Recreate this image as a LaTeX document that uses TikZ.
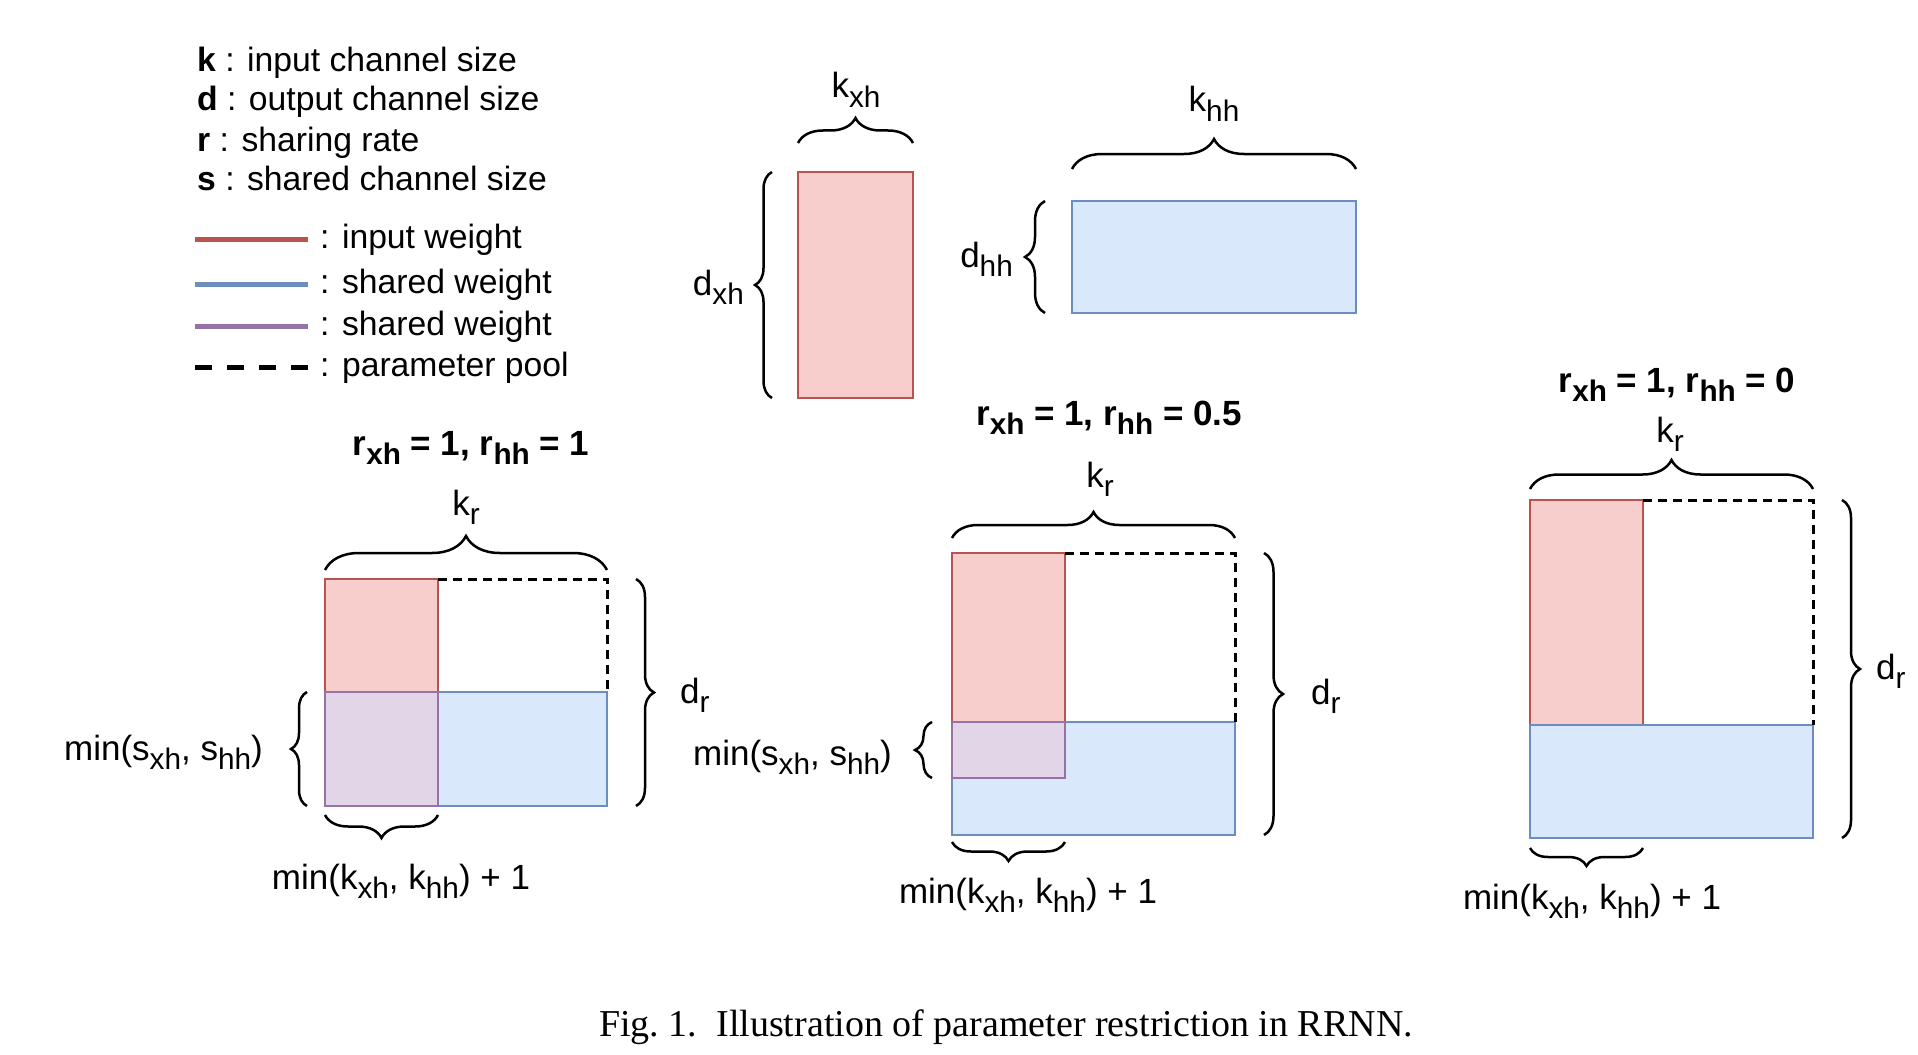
\documentclass[tikz,border=0pt]{standalone}
\usepackage{fontspec}
\usepackage{graphicx}
\setmainfont{Liberation Sans}
\newfontfamily\capfont{Liberation Serif}
\usetikzlibrary{decorations.pathreplacing}
\newcommand{\sbx}[1]{\raisebox{-0.26em}{\fontsize{29.75}{30}\selectfont #1}}
\definecolor{rfill}{HTML}{F8CECC}
\definecolor{rline}{HTML}{B85450}
\definecolor{bfill}{HTML}{DAE8FC}
\definecolor{bline}{HTML}{6C8EBF}
\definecolor{pfill}{HTML}{E1D5E7}
\definecolor{pline}{HTML}{9673A6}
\tikzset{
  redbox/.style={fill=rfill, draw=rline, line width=2.5pt},
  bluebox/.style={fill=bfill, draw=bline, line width=2.5pt},
  purpbox/.style={fill=pfill, draw=pline, line width=2.5pt},
  poolline/.style={draw=black, dash pattern=on 9pt off 6pt, line width=3pt},
  bracepath/.style={draw=black, line width=2.5pt, decorate, decoration={brace, amplitude=#1}},
  legline/.style={line width=5pt},
  legdash/.style={line width=5pt, dash pattern=on 17pt off 15pt},
  leg/.style={font=\fontsize{33.7}{40}\selectfont, inner sep=0pt},
  lbl/.style={font=\fontsize{35}{42}\selectfont, inner sep=0pt},
  ttl/.style={font=\fontsize{35}{42}\selectfont\bfseries, inner sep=0pt},
}
\begin{document}
\begin{tikzpicture}[x=1pt,y=-1pt]
\useasboundingbox[fill=white] (0,0) rectangle (1918,1054);

% ---------------- legend ----------------
\node[leg, anchor=base west] (lk) at (197,72) {\textbf{k} : input channel size};
\node[leg, anchor=base west] (ld) at (197,111) {\textbf{d} : output channel size};
\node[leg, anchor=base west] (lr) at (197,151) {\textbf{r} : sharing rate};
\node[leg, anchor=base west] (ls) at (197,190) {\textbf{s} : shared channel size};
\coordinate (la1) at (195,239); \coordinate (la2) at (308,239);
\coordinate (lb1) at (195,284); \coordinate (lb2) at (308,284);
\coordinate (lc1) at (195,326); \coordinate (lc2) at (308,326);
\coordinate (ld1) at (195,367); \coordinate (ld2) at (308,367);
\draw[legline, rline] (la1) -- (la2);
\draw[legline, bline] (lb1) -- (lb2);
\draw[legline, pline] (lc1) -- (lc2);
\draw[legdash, black] (ld1) -- (ld2);
\node[leg, anchor=base west] (lt1) at (320,248) {: input weight};
\node[leg, anchor=base west] (lt2) at (320,293) {: shared weight};
\node[leg, anchor=base west] (lt3) at (320,335) {: shared weight};
\node[leg, anchor=base west] (lt4) at (320,376) {: parameter pool};

% ---------------- top matrices ----------------
\draw[redbox] (798,172) rectangle (913,398);
\draw[bluebox] (1072,201) rectangle (1356,313);
\coordinate (kxa) at (798,143); \coordinate (kxb) at (913,143);
\draw[bracepath=25] (kxa) -- (kxb);
\node[lbl, anchor=base] (kxh) at (856,98) {k\sbx{xh}};
\coordinate (kha) at (1072,169); \coordinate (khb) at (1356,169);
\draw[bracepath=30] (kha) -- (khb);
\node[lbl, anchor=base] (khh) at (1214,112) {k\sbx{hh}};
\coordinate (dxa) at (772,398); \coordinate (dxb) at (772,172);
\draw[bracepath=17] (dxa) -- (dxb);
\node[lbl, anchor=base east] (dxh) at (744,295) {d\sbx{xh}};
\coordinate (dha) at (1045,313); \coordinate (dhb) at (1045,201);
\draw[bracepath=20] (dha) -- (dhb);
\node[lbl, anchor=base east] (dhh) at (1013,267) {d\sbx{hh}};

% ---------------- left: r_xh=1, r_hh=1 ----------------
\node[ttl, anchor=base] (tL) at (471,455) {r\sbx{xh} = 1, r\sbx{hh} = 1};
\draw[redbox] (325,579) rectangle (438,806);
\draw[bluebox] (325,692) rectangle (607,806);
\draw[purpbox] (325,692) rectangle (438,806);
\draw[poolline] (438,579) -- (607,579) -- (607,692);
\coordinate (Lt1) at (325,570); \coordinate (Lt2) at (607,570);
\draw[bracepath=34] (Lt1) -- (Lt2);
\node[lbl, anchor=base] (kL) at (466,515) {k\sbx{r}};
\coordinate (Lr1) at (636,579); \coordinate (Lr2) at (636,806);
\draw[bracepath=18] (Lr1) -- (Lr2);
\node[lbl, anchor=base west] (dL) at (680,703) {d\sbx{r}};
\coordinate (Ll1) at (307,806); \coordinate (Ll2) at (307,692);
\draw[bracepath=16] (Ll1) -- (Ll2);
\node[lbl, anchor=base east] (sL) at (263,760) {min(s\sbx{xh}, s\sbx{hh})};
\coordinate (Lb1) at (438,815); \coordinate (Lb2) at (325,815);
\draw[bracepath=23] (Lb1) -- (Lb2);
\node[lbl, anchor=base] (mL) at (401,889) {min(k\sbx{xh}, k\sbx{hh}) + 1};

% ---------------- middle: r_xh=1, r_hh=0.5 ----------------
\node[ttl, anchor=base] (tM) at (1109,425) {r\sbx{xh} = 1, r\sbx{hh} = 0.5};
\draw[redbox] (952,553) rectangle (1065,778);
\draw[bluebox] (952,722) rectangle (1235,835);
\draw[purpbox] (952,722) rectangle (1065,778);
\draw[poolline] (1065,553) -- (1235,553) -- (1235,722);
\coordinate (Mt1) at (952,538); \coordinate (Mt2) at (1235,538);
\draw[bracepath=26] (Mt1) -- (Mt2);
\node[lbl, anchor=base] (kM) at (1100,487) {k\sbx{r}};
\coordinate (Mr1) at (1264,553); \coordinate (Mr2) at (1264,835);
\draw[bracepath=19] (Mr1) -- (Mr2);
\node[lbl, anchor=base west] (dM) at (1311,704) {d\sbx{r}};
\coordinate (Ml1) at (932,778); \coordinate (Ml2) at (932,722);
\draw[bracepath=17] (Ml1) -- (Ml2);
\node[lbl, anchor=base east] (sM) at (892,765) {min(s\sbx{xh}, s\sbx{hh})};
\coordinate (Mb1) at (1065,842); \coordinate (Mb2) at (952,842);
\draw[bracepath=19] (Mb1) -- (Mb2);
\node[lbl, anchor=base] (mM) at (1028,903) {min(k\sbx{xh}, k\sbx{hh}) + 1};

% ---------------- right: r_xh=1, r_hh=0 ----------------
\node[ttl, anchor=base] (tR) at (1677,392) {r\sbx{xh} = 1, r\sbx{hh} = 0};
\draw[redbox] (1530,500) rectangle (1643,725);
\draw[bluebox] (1530,725) rectangle (1813,838);
\draw[poolline] (1643,500) -- (1813,500) -- (1813,725);
\coordinate (Rt1) at (1530,489); \coordinate (Rt2) at (1813,489);
\draw[bracepath=29] (Rt1) -- (Rt2);
\node[lbl, anchor=base] (kR) at (1670,442) {k\sbx{r}};
\coordinate (Rr1) at (1842,500); \coordinate (Rr2) at (1842,838);
\draw[bracepath=18] (Rr1) -- (Rr2);
\node[lbl, anchor=base west] (dR) at (1876,679) {d\sbx{r}};
\coordinate (Rb1) at (1643,848); \coordinate (Rb2) at (1530,848);
\draw[bracepath=18] (Rb1) -- (Rb2);
\node[lbl, anchor=base] (mR) at (1592,909) {min(k\sbx{xh}, k\sbx{hh}) + 1};

% ---------------- caption ----------------
\node[inner sep=0pt, anchor=base, font=\capfont\fontsize{38}{44}\selectfont] (cap) at (1006,1036) {Fig.~1.\ \ Illustration of parameter restriction in RRNN.};
\end{tikzpicture}
\end{document}
